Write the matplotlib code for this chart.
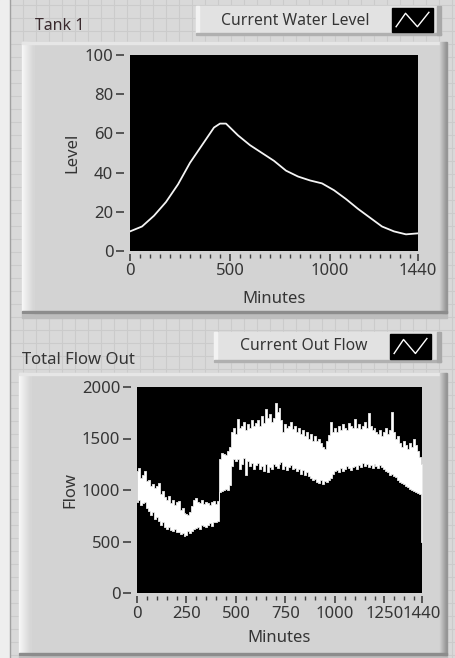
import matplotlib
matplotlib.use('Agg')
import matplotlib.pyplot as plt
from matplotlib.patches import Rectangle
from matplotlib.lines import Line2D
import numpy as np

# ---------------- data ----------------
level_minutes = [0, 60, 120, 180, 240, 300, 360, 420, 450, 480, 540, 600, 660,
                 720, 780, 840, 900, 960, 1020, 1080, 1140, 1200, 1260, 1320,
                 1380, 1440]
level_values = [10, 12.5, 18, 25, 34, 45, 54, 63, 65, 65, 59, 54, 50,
                46, 41, 38, 36, 34.5, 31, 26.5, 21.5, 17, 12.5, 10,
                8.5, 9]

flow_minutes = list(range(0, 1441, 10))
flow_high = [1180, 1210, 1120, 1150, 1180, 1090, 1100, 1040, 1060, 1020, 1040,
             1070, 960, 990, 930, 900, 940, 870, 900, 850, 880,
             890, 810, 830, 780, 770, 760, 790, 840, 900, 920,
             880, 870, 900, 860, 880, 870, 850, 880, 890, 860, 890,
             1300, 1360, 1350, 1340, 1380, 1420, 1560, 1600, 1540,
             1690, 1600, 1620, 1660, 1580, 1640, 1600, 1680, 1620, 1650,
             1680, 1620, 1720, 1650, 1790, 1700, 1740, 1660, 1700, 1840,
             1760, 1800, 1680, 1560, 1640, 1600, 1620, 1660, 1590, 1620,
             1560, 1600, 1540, 1580, 1520, 1560, 1500, 1540, 1480, 1520,
             1480, 1500, 1460, 1420, 1400, 1480, 1530, 1660, 1560, 1600,
             1560, 1620, 1580, 1640, 1600, 1580, 1650, 1620, 1600, 1690,
             1600, 1640, 1590, 1620, 1660, 1600, 1750, 1620, 1580, 1600,
             1560, 1540, 1580, 1520, 1560, 1600, 1540, 1580, 1760, 1560,
             1500, 1520, 1460, 1420, 1480, 1440, 1400, 1460, 1420, 1500,
             1440, 1380, 1320, 1250]
flow_low = [880, 900, 850, 870, 880, 830, 800, 760, 790, 720, 740,
            700, 660, 690, 640, 620, 640, 610, 600, 620, 590,
            590, 570, 580, 550, 560, 600, 580, 600, 620, 630,
            640, 620, 660, 650, 640, 660, 680, 650, 690, 690, 700,
            980, 990, 1000, 1010, 1000, 1050, 1230, 1300, 1280,
            1300, 1200, 1250, 1310, 1150, 1280, 1230, 1260, 1200, 1240,
            1260, 1200, 1230, 1180, 1250, 1170, 1220, 1200, 1250, 1230,
            1210, 1250, 1270, 1200, 1230, 1190, 1220, 1240, 1200, 1210,
            1180, 1200, 1160, 1190, 1150, 1170, 1140, 1120, 1100, 1110,
            1080, 1070, 1100, 1060, 1090, 1080, 1100, 1120, 1160, 1180,
            1190, 1170, 1210, 1180, 1200, 1230, 1210, 1190, 1220, 1230,
            1200, 1240, 1220, 1260, 1230, 1250, 1220, 1240, 1210, 1250,
            1230, 1210, 1240, 1220, 1200, 1180, 1170, 1150, 1160, 1140,
            1130, 1100, 1080, 1070, 1060, 1040, 1030, 1010, 1000, 990,
            980, 970, 960, 500]

top_title = "Tank 1"
top_legend = "Current Water Level"
bot_title = "Total Flow Out"
bot_legend = "Current Out Flow"
top_xticks = [0, 500, 1000, 1440]
top_yticks = [0, 20, 40, 60, 80, 100]
bot_xticks = [0, 250, 500, 750, 1000, 1250, 1440]
bot_yticks = [0, 500, 1000, 1500, 2000]

# ---------------- layout ----------------
W, H = 455, 658
FONT = ['Noto Sans', 'DejaVu Sans']
TXT = '#353535'
plt.rcParams['font.family'] = FONT

fig = plt.figure(figsize=(W / 100, H / 100), dpi=100)
fig.patch.set_facecolor('#d9d9d9')

bg = fig.add_axes([0, 0, 1, 1])
bg.set_xlim(0, W)
bg.set_ylim(H, 0)
bg.axis('off')
bg.set_zorder(-5)

# front-panel grid
for gx in np.arange(10, W, 13):
    bg.add_line(Line2D([gx, gx], [0, H], color='#cbcbcb', lw=0.8, zorder=0))
for gy in np.arange(5, H, 13):
    bg.add_line(Line2D([10, W], [gy, gy], color='#cbcbcb', lw=0.8, zorder=0))
bg.add_patch(Rectangle((0, 0), 9, H, color='#eeeeee', zorder=1))
bg.add_line(Line2D([9.5, 9.5], [0, H], color='#a0a0a0', lw=1, zorder=1))


def panel(x0, y0, x1, y1):
    bg.add_patch(Rectangle((x0, y0), x1 - x0, y1 - y0, color='#d3d3d3', zorder=2))
    n = 12
    for i in range(n):
        c = 0.97 - (0.97 - 0.827) * i / n
        bg.add_patch(Rectangle((x0 + i, y0), 1.05, y1 - y0, color=(c, c, c), zorder=3))
    bg.add_patch(Rectangle((x0, y0), x1 - x0, 2, color='#e6e6e6', zorder=3))
    for i in range(7):
        c = 0.80 - 0.035 * i
        bg.add_patch(Rectangle((x1 - 7 + i, y0), 1.05, y1 - y0, color=(c, c, c), zorder=3))
    bg.add_patch(Rectangle((x0, y1 - 2), x1 - x0, 2, color='#8c8c8c', zorder=4))
    bg.add_patch(Rectangle((x0, y1), x1 - x0, 5, color='#bdbdbd', zorder=2))


def legend_box(x0, y0, x1, y1, label, tx, ty, sx0, sx1, sy0, sy1):
    bg.add_patch(Rectangle((x0, y0), x1 - x0, y1 - y0, color='#e2e2e2', zorder=5))
    bg.add_patch(Rectangle((x0, y0), 3, y1 - y0, color='#f2f2f2', zorder=6))
    bg.add_patch(Rectangle((x0, y1 - 2), x1 - x0, 2, color='#b0b0b0', zorder=6))
    bg.add_patch(Rectangle((x1 - 4, y0), 4, y1 - y0, color='#a8a8a8', zorder=6))
    bg.text(tx, ty, label, ha='center', va='center',
            fontsize=11.3, color=TXT, zorder=7)
    bg.add_patch(Rectangle((sx0, sy0), sx1 - sx0, sy1 - sy0, color='black', zorder=7))
    w = sx1 - sx0
    h = sy1 - sy0
    gx = [sx0 + 0.10 * w, sx0 + 0.33 * w, sx0 + 0.62 * w, sx0 + 0.90 * w]
    gy = [sy0 + 0.78 * h, sy0 + 0.22 * h, sy0 + 0.78 * h, sy0 + 0.18 * h]
    bg.add_line(Line2D(gx, gy, color='white', lw=1.0, zorder=8))


panel(22, 42, 447, 313)
panel(19, 373, 447, 655)
legend_box(196, 6, 441, 35, top_legend, 295, 21, 392, 433, 8, 32)
legend_box(214, 332, 441, 362, bot_legend, 304, 346, 390, 431, 334, 359)
bg.text(35, 26, top_title, ha='left', va='center', fontsize=11.5, color='#3a2a2e', zorder=7)
bg.text(22, 360, bot_title, ha='left', va='center', fontsize=12, color=TXT, zorder=7)


def style_axes(ax, xticks, yticks, xmax, ymax, xlabel, ylabel, xl_pos, yl_pos):
    ax.set_facecolor('black')
    ax.set_xlim(0, xmax)
    ax.set_ylim(0, ymax)
    ax.spines['left'].set_position(('outward', 4))
    ax.spines['bottom'].set_position(('outward', 2))
    for s in ax.spines.values():
        s.set_visible(False)
    ax.set_xticks(xticks)
    ax.set_yticks(yticks)
    ax.set_xticks(np.arange(0, xmax + 1, 50), minor=True)
    ax.tick_params(axis='x', which='major', length=5, width=1.2, color='#404040',
                   labelsize=12, labelcolor=TXT, pad=2)
    ax.tick_params(axis='x', which='minor', length=3, width=1.0, color='#404040')
    ax.tick_params(axis='y', which='major', length=6, width=1.2, color='#404040',
                   labelsize=12, labelcolor=TXT, pad=2)
    ax.set_xlabel(xlabel, fontsize=12, color=TXT)
    ax.set_ylabel(ylabel, fontsize=12, color=TXT)
    ax.xaxis.set_label_coords(0.5, xl_pos)
    ax.yaxis.set_label_coords(yl_pos, 0.5)
    ax.xaxis.label.set_va('center')
    ax.yaxis.label.set_va('center')


ax1 = fig.add_axes([130 / W, (H - 251) / H, 288 / W, 196 / H])
style_axes(ax1, top_xticks, top_yticks, 1440, 100, 'Minutes', 'Level',
           -(299 - 251) / 196, (72 - 130) / 288)
ax1.plot(level_minutes, level_values, color='#f4f4f4', lw=1.3)

ax2 = fig.add_axes([137 / W, (H - 593) / H, 285 / W, 206 / H])
style_axes(ax2, bot_xticks, bot_yticks, 1440, 2000, 'Minutes', 'Flow',
           -(638 - 593) / 206, (70 - 137) / 285)
ax2.fill_between(flow_minutes, flow_low, flow_high, step='mid',
                 facecolor='white', edgecolor='#e8e8e8', lw=0.6)

fig.savefig('out.png', dpi=100, facecolor=fig.get_facecolor())
